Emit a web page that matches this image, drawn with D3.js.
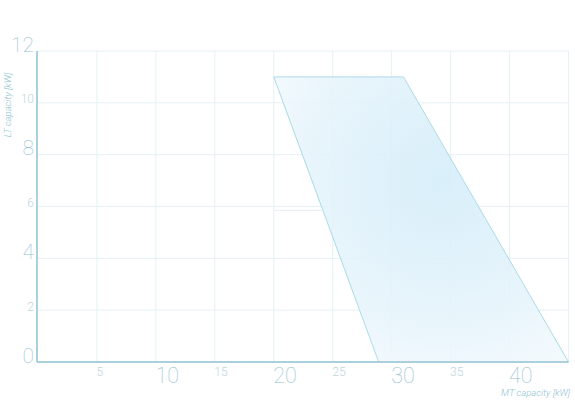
<!DOCTYPE html>
<html><head><meta charset="utf-8">
<script src="https://cdn.jsdelivr.net/npm/d3@7"></script>
<style>
html,body{margin:0;padding:0;background:#fff;}
svg{display:block;}
svg text{font-family:"Roboto",sans-serif;}
</style></head>
<body><svg id="c" width="575" height="406"></svg>
<script>
// Data
const xTicks = [5, 10, 15, 20, 25, 30, 35, 40, 45];
const yTicks = [0, 2, 4, 6, 8, 10, 12];
const xMajor = [10, 20, 30, 40];
const yMajor = [0, 4, 8, 12];
const envelopeMT = [20, 31, 45, 28.9];
const envelopeLT = [11, 11, 0, 0];
const stubMT = [20, 24.17];
const stubLT = [5.85, 5.85];
const xTitle = "MT capacity [kW]";
const yTitle = "LT capacity [kW]";

const svg = d3.select("#c");
const x = d3.scaleLinear().domain([0, 45]).range([38, 568.5]);
const y = d3.scaleLinear().domain([0, 12]).range([362, 51]);

const defs = svg.append("defs");
const grad = defs.append("radialGradient").attr("id", "g")
  .attr("gradientUnits", "userSpaceOnUse")
  .attr("cx", x(35)).attr("cy", y(7)).attr("r", 260)
  .attr("fx", x(34)).attr("fy", y(7));
grad.append("stop").attr("offset", "0%").attr("stop-color", "#d4edf9");
grad.append("stop").attr("offset", "55%").attr("stop-color", "#e6f4fb");
grad.append("stop").attr("offset", "100%").attr("stop-color", "#fbfdff");

// grid
const grid = svg.append("g");
grid.selectAll("line.v").data(xTicks).join("line")
  .attr("x1", d => x(d)).attr("x2", d => x(d))
  .attr("y1", y(12)).attr("y2", y(0))
  .attr("stroke", "#e5f1f5").attr("stroke-width", 1);
grid.selectAll("line.h").data(yTicks.filter(d => d > 0)).join("line")
  .attr("x1", x(0)).attr("x2", x(45))
  .attr("y1", d => y(d)).attr("y2", d => y(d))
  .attr("stroke", "#e5f1f5").attr("stroke-width", 1);

// envelope polygon
const pts = envelopeMT.map((v, i) => [x(v), y(envelopeLT[i])]);
svg.append("path")
  .attr("d", d3.line()(pts) + "Z")
  .attr("fill", "url(#g)").attr("fill-opacity", 0.9)
  .attr("stroke", "#abdae8").attr("stroke-width", 1);

svg.append("path")
  .attr("d", d3.line()(stubMT.map((v, i) => [x(v), y(stubLT[i])])))
  .attr("stroke", "#e5f1f5").attr("stroke-width", 1).attr("fill", "none");

// axes
const xAxis = d3.axisBottom(x).tickValues(xTicks.filter(d => d < 45)).tickSize(0).tickPadding(0)
  .tickFormat(d3.format("d"));
const gx = svg.append("g").attr("transform", `translate(0,${y(0)})`).call(xAxis)
  .attr("font-family", null);
gx.select(".domain").attr("stroke", "#a9d0dc").attr("stroke-width", 2)
  .attr("d", `M${x(0) - 1},0H${x(45)}`);
gx.selectAll(".tick text")
  .attr("text-anchor", "start").attr("dy", null)
  .attr("x", -1)
  .attr("y", d => xMajor.includes(d) ? 20.5 : 14)
  .attr("font-weight", d => xMajor.includes(d) ? 100 : 300)
  .attr("font-size", d => xMajor.includes(d) ? 21.5 : 12)
  .attr("fill", d => xMajor.includes(d) ? "#8fc2d2" : "#bcd6de");

const yAxis = d3.axisLeft(y).tickValues(yTicks).tickSize(0).tickPadding(3)
  .tickFormat(d3.format("d"));
const gy = svg.append("g").attr("transform", `translate(${x(0) - 1},0)`).call(yAxis)
  .attr("font-family", null);
gy.select(".domain").attr("stroke", "#a9d0dc").attr("stroke-width", 2)
  .attr("d", `M0,${y(12)}V${y(0)}`);
gy.selectAll(".tick text")
  .attr("dy", null).attr("y", 0)
  .attr("font-weight", d => yMajor.includes(d) ? 100 : 300)
  .attr("font-size", d => yMajor.includes(d) ? 21 : 12)
  .attr("fill", d => yMajor.includes(d) ? "#8fc2d2" : "#bcd6de");

// titles
svg.append("text").text(yTitle)
  .attr("transform", `translate(11,${105}) rotate(-90)`)
  .attr("text-anchor", "middle").attr("font-style", "italic").attr("font-weight", 300)
  .attr("font-size", 9.5).attr("fill", "#8ec3d4");
svg.append("text").text(xTitle)
  .attr("x", 570).attr("y", 396)
  .attr("text-anchor", "end").attr("font-style", "italic").attr("font-weight", 300)
  .attr("font-size", 9.5).attr("fill", "#8ec3d4");
</script></body></html>
